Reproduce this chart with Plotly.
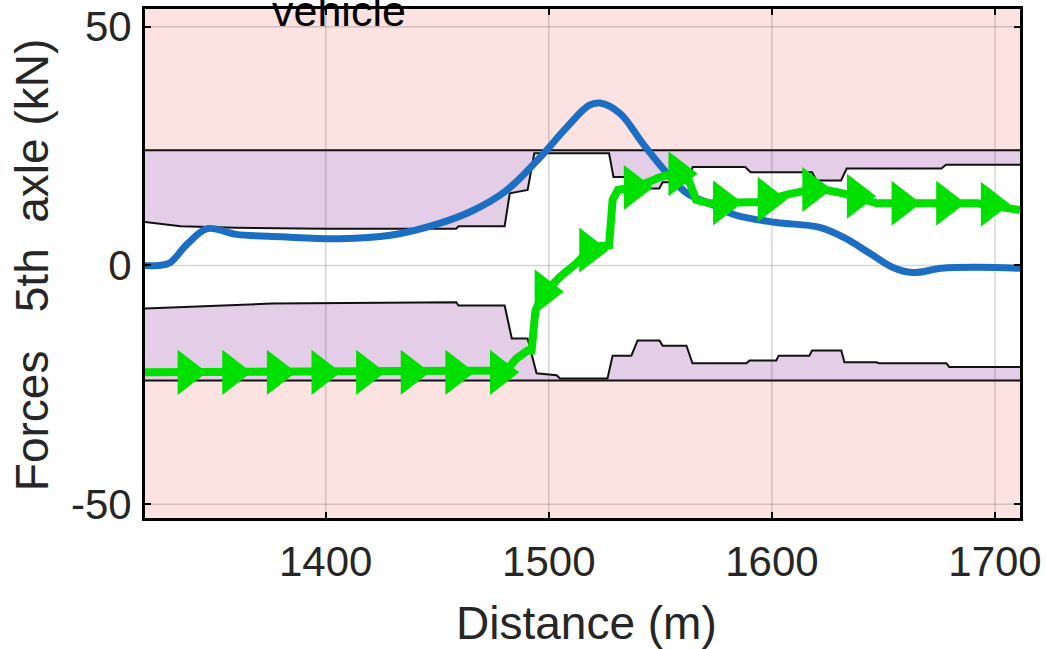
import plotly.graph_objects as go

# axis limits and ticks
X_RANGE = [1319, 1711.2]
Y_RANGE = [-52.9, 53.7]
X_TICKS = [1400, 1500, 1600, 1700]
Y_TICKS = [-50, 0, 50]
Y_TICK_TEXT = ["-50", "0", "50"]

# outer force limits (kN)
LIMIT_HI = 24.1
LIMIT_LO = -24.1

# inner boundary, upper side
upper_x = [1319, 1335, 1360, 1400, 1458.5, 1459.5, 1480.2, 1482.5, 1490.5, 1493.5,
           1527, 1529, 1539, 1541, 1549.5, 1551, 1562.5, 1564.5, 1588, 1590.5, 1618,
           1620, 1631, 1633.5, 1676, 1678, 1711.2]
upper_y = [9.1, 8.2, 7.9, 7.7, 7.7, 8.2, 8.2, 15.1, 15.8, 23.5,
           23.5, 18.5, 18.5, 16.1, 16.1, 17.4, 17.4, 20.6, 20.6, 19.5, 19.5,
           17.8, 17.8, 20.3, 20.3, 21.1, 21.1]

# inner boundary, lower side
lower_x = [1319, 1335, 1376, 1458.5, 1459.5, 1480.2, 1483.4, 1490.5, 1494.5, 1503.5,
           1505, 1526.3, 1528.6, 1537, 1539.8, 1549.6, 1551, 1561.7, 1564.4, 1588.6,
           1590, 1602, 1603, 1616.8, 1618, 1631.1, 1632.5, 1646.8, 1648, 1678.2,
           1679.5, 1711.2]
lower_y = [-9.0, -8.7, -8.0, -7.7, -8.4, -8.4, -15.3, -15.3, -22.6, -23.0,
           -23.7, -23.7, -18.9, -18.9, -15.7, -15.7, -16.8, -16.8, -20.5, -20.5,
           -19.9, -19.9, -18.9, -18.9, -17.8, -17.8, -20.3, -20.3, -20.5, -20.5,
           -21.3, -21.3]

# measured force (blue)
blue_x = [1319, 1325, 1330, 1338, 1347, 1360, 1380, 1406, 1429, 1451, 1466, 1481,
          1496, 1508, 1518, 1523, 1532, 1542, 1553, 1562, 1572, 1584, 1602, 1621,
          1632, 1644, 1654, 1663, 1676, 1692, 1711.2]
blue_y = [0, 0, 0.5, 4.5, 7.7, 6.5, 6.0, 5.6, 6.3, 8.8, 11.5, 15.7,
          22.6, 28.9, 33.5, 34.0, 31.8, 25.6, 19.3, 15.1, 13.0, 10.5, 9.0, 8.0,
          5.9, 2.5, -0.4, -1.5, -0.6, -0.4, -0.6]

# controlled force (green)
green_x = [1318, 1400, 1481, 1485.5, 1490.5, 1492.3, 1494, 1497, 1505, 1512.5,
           1519.6, 1527, 1528.6, 1531, 1539, 1550, 1557, 1563, 1566, 1572, 1594,
           1609, 1621, 1632, 1647, 1669, 1692, 1711.2]
green_y = [-22.4, -22.4, -22.0, -19.5, -17.8, -17.8, -9.5, -6.3, -2.4, 0.5,
           3.9, 4.2, 13.7, 15.8, 16.4, 18.5, 19.3, 17.5, 13.7, 13.0, 13.3,
           15.1, 16.1, 15.1, 13.0, 13.0, 13.0, 11.6]

# marker positions on the green curve (every 20 m)
mark_x = [1318, 1338, 1358, 1378, 1398, 1418, 1438, 1458, 1478, 1498, 1518,
          1538, 1558, 1578, 1598, 1618, 1638, 1658, 1678, 1698]
mark_y = [-22.4, -22.4, -22.4, -22.4, -22.4, -22.4, -22.4, -22.4, -22.4, -5.5, 3.2,
          16.3, 19.2, 13.1, 13.8, 15.9, 14.5, 13.0, 13.0, 12.8]

PINK = "#fde2e2"
PURPLE = "#e3cde7"
BLUE = "#1c6ec2"
GREEN = "#00e000"
TEXT = "#262626"
FONT = "Liberation Sans, Arial, sans-serif"

fig = go.Figure()

# upper purple band
fig.add_trace(go.Scatter(
    x=upper_x + [upper_x[-1], upper_x[0]],
    y=upper_y + [LIMIT_HI, LIMIT_HI],
    fill="toself", fillcolor=PURPLE, mode="none", hoverinfo="skip"))
# lower purple band
fig.add_trace(go.Scatter(
    x=lower_x + [lower_x[-1], lower_x[0]],
    y=lower_y + [LIMIT_LO, LIMIT_LO],
    fill="toself", fillcolor=PURPLE, mode="none", hoverinfo="skip"))
# white feasible region
fig.add_trace(go.Scatter(
    x=upper_x + lower_x[::-1],
    y=upper_y + lower_y[::-1],
    fill="toself", fillcolor="white", mode="none", hoverinfo="skip"))

# boundary lines
for bx, by in [(X_RANGE, [LIMIT_HI, LIMIT_HI]), (upper_x, upper_y),
               (lower_x, lower_y), (X_RANGE, [LIMIT_LO, LIMIT_LO])]:
    fig.add_trace(go.Scatter(x=bx, y=by, mode="lines",
                             line=dict(color="#111111", width=2), hoverinfo="skip"))

# grid drawn on top of the patches
gx, gy = [], []
for t in X_TICKS:
    gx += [t, t, None]
    gy += [Y_RANGE[0], Y_RANGE[1], None]
for t in Y_TICKS:
    gx += [X_RANGE[0], X_RANGE[1], None]
    gy += [t, t, None]
fig.add_trace(go.Scatter(x=gx, y=gy, mode="lines",
                         line=dict(color="rgba(60,40,40,0.2)", width=1.5), hoverinfo="skip"))

fig.add_trace(go.Scatter(x=blue_x, y=blue_y, mode="lines", line_shape="spline",
                         line=dict(color=BLUE, width=7)))
fig.add_trace(go.Scatter(x=green_x, y=green_y, mode="lines",
                         line=dict(color=GREEN, width=8)))
fig.add_trace(go.Scatter(x=mark_x, y=mark_y, mode="markers", cliponaxis=False,
                         marker=dict(symbol="triangle-right", size=39, color=GREEN,
                                     line=dict(width=0))))

# title (cut at the top as in the source figure) and axis titles
fig.add_annotation(text="vehicle", xref="paper", yref="paper", x=0.222, y=1.047,
                   xanchor="center", yanchor="top", showarrow=False,
                   font=dict(family=FONT, size=43, color="black"))
fig.add_annotation(text="Distance (m)", xref="paper", yref="paper", x=0.505, y=-0.206,
                   xanchor="center", yanchor="middle", showarrow=False,
                   font=dict(family=FONT, size=46, color=TEXT))
fig.add_annotation(text="Forces\u00a0\u00a0\u00a05th\u00a0\u00a0axle (kN)", textangle=-90,
                   xref="paper", yref="paper", x=-0.129, y=0.497,
                   xanchor="center", yanchor="middle", showarrow=False,
                   font=dict(family=FONT, size=46, color=TEXT))

axis_common = dict(showgrid=False, zeroline=False, showline=True, linecolor="black",
                   linewidth=3, mirror="ticks", ticks="inside", ticklen=6,
                   tickcolor="black", tickwidth=1.5, automargin=False,
                   tickfont=dict(family=FONT, size=42, color=TEXT))

fig.update_layout(
    width=1046, height=649,
    margin=dict(l=145, r=26, t=9, b=131),
    plot_bgcolor=PINK, paper_bgcolor="white",
    showlegend=False,
    xaxis=dict(range=X_RANGE, tickvals=X_TICKS, ticklabelstandoff=5, **axis_common),
    yaxis=dict(range=Y_RANGE, tickvals=Y_TICKS, ticktext=Y_TICK_TEXT,
               ticklabelstandoff=2, **axis_common),
)

# drop the default page margin so the figure fills the window exactly
fig.write_html("out.html", config={"displayModeBar": False},
               post_script="document.body.style.margin = '0';")
